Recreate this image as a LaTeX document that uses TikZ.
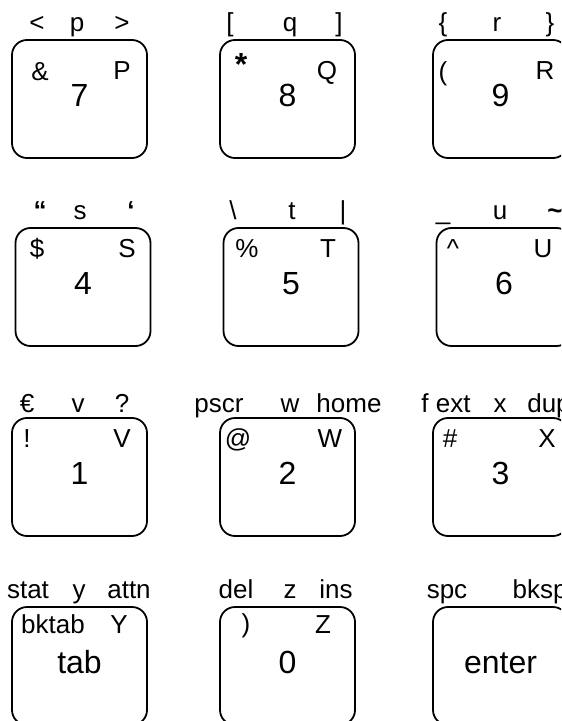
\documentclass[tikz,border=0pt]{standalone}
\usepackage{fontspec}
\setmainfont{Liberation Sans}
\usepackage{tikz}
\usetikzlibrary{positioning}

\begin{document}
\begin{tikzpicture}[
            x=0.5pt, y=-0.5pt,
            key/.style={rectangle, rounded corners=7.5pt, draw=black, line width=0.9pt,
                        minimum width=67.5pt, minimum height=59pt, outer sep=0pt,
                        text height=7.5pt, text depth=0pt, font=\fontsize{16}{19}\selectfont},
            lbl/.style={anchor=base, inner sep=0pt, font=\fontsize{13}{15}\selectfont}
        ]
            \useasboundingbox (0,0) rectangle (561,721);
            \clip (0,0) rectangle (561,721);

            % keys
            \node[key] (k7) at (79.5,99) {7};
            \node[key, right=36.5pt of k7] (k8) {8};
            \node[key, right=39pt of k8]   (k9) {9};
            \node[key, below=35pt of k7, xshift=1.75pt] (k4) {4};
            \node[key, right=36.5pt of k4] (k5) {5};
            \node[key, right=39pt of k5]   (k6) {6};
            \node[key, below=36pt of k4, xshift=-1.75pt] (k1) {1};
            \node[key, right=36.5pt of k1] (k2) {2};
            \node[key, right=39pt of k2]   (k3) {3};
            \node[key, below=35.5pt of k1] (ktab) {tab};
            \node[key, right=36.5pt of ktab] (k0) {0};
            \node[key, right=39pt of k0]   (kent) {enter};

            % row 1
            \node[lbl] (t7l) at (37,32)  {<};
            \node[lbl] (t7m) at (77,32)  {p};
            \node[lbl] (t7r) at (122,32) {>};
            \node[lbl] (i7l) at (40,81)  {\&};
            \node[lbl] (i7r) at (122,80) {P};
            \node[lbl] (t8l) at (230,32) {[};
            \node[lbl] (t8m) at (290,32) {q};
            \node[lbl] (t8r) at (339,32) {]};
            \node[lbl, font=\fontsize{16}{19}\selectfont\bfseries] (i8l) at (241,76) {*};
            \node[lbl] (i8r) at (327,80) {Q};
            \node[lbl] (t9l) at (443,32) {\{};
            \node[lbl] (t9m) at (497,32) {r};
            \node[lbl] (t9r) at (550,32) {\}};
            \node[lbl] (i9l) at (443,81) {(};
            \node[lbl] (i9r) at (545,80) {R};

            % row 2
            \node[lbl] (t4l) at (40,220)  {\bfseries “};
            \node[lbl] (t4m) at (80,220)  {s};
            \node[lbl] (t4r) at (131,220) {\bfseries ‘};
            \node[lbl] (i4l) at (37,257)  {\$};
            \node[lbl] (i4r) at (127,257) {S};
            \node[lbl] (t5l) at (233,220) {\textbackslash};
            \node[lbl] (t5m) at (292,220) {t};
            \node[lbl] (t5r) at (343,220) {|};
            \node[lbl] (i5l) at (247,257) {\%};
            \node[lbl] (i5r) at (328,257) {T};
            \node[lbl] (t6l) at (443,220) {\_};
            \node[lbl] (t6m) at (500,220) {u};
            \node[lbl] (t6r) at (555,220) {\bfseries\textasciitilde};
            \node[lbl] (i6l) at (453,257) {\textasciicircum};
            \node[lbl] (i6r) at (543,257) {U};

            % row 3
            \node[lbl] (t1l) at (27,412)  {€};
            \node[lbl] (t1m) at (78,412)  {v};
            \node[lbl] (t1r) at (122,412) {?};
            \node[lbl] (i1l) at (27,447)  {!};
            \node[lbl] (i1r) at (122,447) {V};
            \node[lbl] (t2l) at (219,412) {pscr};
            \node[lbl] (t2m) at (290,412) {w};
            \node[lbl] (t2r) at (349,412) {home};
            \node[lbl] (i2l) at (238,447) {@};
            \node[lbl] (i2r) at (330,447) {W};
            \node[lbl] (t3l) at (446,412) {f ext};
            \node[lbl] (t3m) at (500,412) {x};
            \node[lbl] (t3r) at (549,412) {dup};
            \node[lbl] (i3l) at (450,447) {\#};
            \node[lbl] (i3r) at (547,447) {X};

            % row 4
            \node[lbl] (ttl) at (28,598)  {stat};
            \node[lbl] (ttm) at (79,598)  {y};
            \node[lbl] (ttr) at (129,598) {attn};
            \node[lbl] (itl) at (53,633)  {bktab};
            \node[lbl] (itr) at (119,633) {Y};
            \node[lbl] (t0l) at (236,598) {del};
            \node[lbl] (t0m) at (290,598) {z};
            \node[lbl] (t0r) at (336,598) {ins};
            \node[lbl] (i0l) at (246,632) {)};
            \node[lbl] (i0r) at (323,633) {Z};
            \node[lbl] (tel) at (447,598) {spc};
            \node[lbl] (ter) at (540,598) {bksp};

        \end{tikzpicture}
\end{document}
